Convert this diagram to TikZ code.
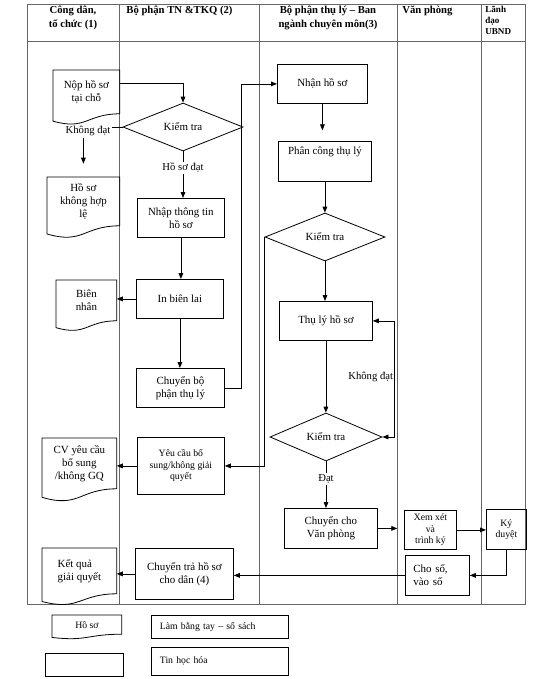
\documentclass[tikz,border=0pt]{standalone}
\usepackage{fontspec}
\setmainfont{Liberation Serif}
\usetikzlibrary{shapes.geometric,arrows.meta,calc}

\tikzset{every picture/.style={line width=0.6pt}}
\tikzset{
  >={Triangle[length=4.5pt,width=3.5pt]},
  lane/.style={draw=black!60, line width=0.7pt},
  box/.style={draw, rectangle, anchor=north west, inner sep=1pt, align=center, font=\fontsize{8.2}{9.8}\selectfont},
  doc/.style={rectangle, anchor=north west, inner sep=1pt, align=center, font=\fontsize{8.2}{9.8}\selectfont},
  check/.style={draw, diamond, aspect=2.5, inner sep=0pt, font=\fontsize{8.2}{9.8}\selectfont},
  lbl/.style={fill=white, inner sep=1pt, font=\fontsize{8}{9.6}\selectfont},
  head/.style={anchor=north, inner sep=0pt, align=center, font=\bfseries\fontsize{8}{10.5}\selectfont},
  small/.style={font=\fontsize{7.3}{8.6}\selectfont}
}
% document outline with a wavy bottom edge
\newcommand{\wavy}[1]{%
  \draw (#1.north west) -- (#1.north east) -- (#1.south east)
    .. controls (#1.south) and ($(#1.north)!1.385!(#1.south)$)
    .. ($(#1.north west)!1.1675!(#1.south west)$) -- cycle;}

\begin{document}
\begin{tikzpicture}[x=0.75pt,y=0.75pt,yscale=-1,xscale=1]
\useasboundingbox (0,0) rectangle (543,679);

%Lanes
\draw[lane] (27,4) rectangle (525,604);
\draw[lane] (27,41) -- (525,41);
\draw[lane] (119,4) -- (119,604);
\draw[lane] (259,4) -- (259,604);
\draw[lane] (397,4) -- (397,604);
\draw[lane] (481,4) -- (481,604);

% Headers
\node[head] (h1) at (73,6) {Công dân,\\ tổ chức (1)};
\node[head, anchor=north west] (h2) at (126,6) {Bộ phận TN \&TKQ (2)};
\node[head] (h3) at (328,6) {Bộ phận thụ lý – Ban\\ ngành chuyên môn(3)};
\node[head, anchor=north west] (h4) at (402,6) {Văn phòng};
\node[head, anchor=north west, align=left, font=\bfseries\fontsize{6.8}{8.2}\selectfont] (h5) at (485,6) {Lãnh\\ đạo\\ UBND};

%Shape: documents
\node[doc, minimum width=49.5pt, minimum height=32.25pt] (nop) at (53,70) {Nộp hồ sơ\\ tại chỗ};
\wavy{nop}
\node[doc, minimum width=54pt, minimum height=36pt] (khonghople) at (47,177) {Hồ sơ\\ không hợp\\ lệ};
\wavy{khonghople}
\node[doc, minimum width=45pt, minimum height=30pt] (biennhan) at (56,280) {Biên\\ nhân};
\wavy{biennhan}
\node[doc, minimum width=55.5pt, minimum height=37.5pt] (cv) at (42,438) {CV yêu cầu\\ bổ sung\\ /không GQ};
\wavy{cv}
\node[doc, minimum width=55.5pt, minimum height=33.75pt, align=left] (ketqua) at (42,548) {Kết quả\\ giải quyết};
\wavy{ketqua}

%Shape: boxes
\node[box, minimum width=65.25pt, minimum height=29.25pt] (nhap) at (137,198) {Nhập thông tin\\ hồ sơ};
\node[box, minimum width=65.25pt, minimum height=29.25pt] (inbienlai) at (136,279) {In biên lai};
\node[box, minimum width=66pt, minimum height=29.25pt] (chuyenbp) at (136,368) {Chuyển bộ\\ phận thụ lý};
\node[box, small, minimum width=65.25pt, minimum height=42.75pt] (yeucau) at (137,437) {Yêu cầu bổ\\ sung/không giải\\ quyết};
\node[box, minimum width=73.5pt, minimum height=38.25pt] (chuyentra) at (135,548) {Chuyển trả hồ sơ\\ cho dân (4)};
\node[box, minimum width=67.5pt, minimum height=29.25pt] (nhan) at (277,64) {Nhận hồ sơ};
\node[box, minimum width=69.75pt, minimum height=30pt, inner sep=3pt, text height=7pt, text depth=17pt] (phancong) at (278,141) {Phân công thụ lý};
\node[box, minimum width=69.75pt, minimum height=29.25pt] (thuly) at (279,301) {Thụ lý hồ sơ};
\node[box, minimum width=69.75pt, minimum height=30pt] (chuyenvp) at (284,508) {Chuyển cho\\ Văn phòng};
\node[box, small, minimum width=39pt, minimum height=29.25pt] (xemxet) at (404,510) {Xem xét\\ và\\ trình ký};
\node[box, small, minimum width=30pt, minimum height=30pt] (kyduyet) at (486,509) {Ký\\ duyệt};
\node[box, minimum width=48pt, minimum height=30pt, text width=36pt, align=left] (choso) at (405,555) {Cho số,\\ vào số};

%Shape: checks
\node[check, minimum width=90pt, minimum height=36pt] (kt1) at (183,127) {Kiểm tra};
\node[check, minimum width=90pt, minimum height=36pt] (kt2) at (325,237) {Kiểm tra};
\node[check, minimum width=84pt, minimum height=36pt] (kt3) at (326,437) {Kiểm tra};

%Connectors
\draw[->] ($(nop.north east)!0.3!(nop.south east)$) -| (kt1.north);
\node[lbl] (kd1) at (88,131) {Không đạt};
\draw (kt1.west) -- (kt1.west -| kd1.east);
\draw[->, shorten >=10pt] (kd1.south -| khonghople.north) -- (khonghople.north);
\draw[->] (kt1.south) -- (kt1.south |- nhap.north) node[lbl, pos=0.35] (hsd) {Hồ sơ đạt};
\draw[->] (nhap.south) -- (nhap.south |- inbienlai.north);
\draw[->] (inbienlai.west) -- (inbienlai.west -| biennhan.east);
\draw[->] (inbienlai.south) -- (inbienlai.south |- chuyenbp.north);
\draw[->] (chuyenbp.east) -- ++(17,0) |- (nhan.west);
\draw[->, shorten >=8pt] (nhan.south) -- (nhan.south |- phancong.north);
\draw[->] (phancong.south) -- (phancong.south |- kt2.north);
\draw[->] (kt2.south) -- (kt2.south |- thuly.north);
\draw[->] (kt2.west) |- (yeucau.east);
\draw[->] (yeucau.west) -- (yeucau.west -| cv.east);
\draw[->] (thuly.south) -- (thuly.south |- kt3.north);
\draw[<->] (kt3.east) -- ++(12,0) |- (thuly.east);
\node[lbl, anchor=east] (kd2) at (394.8,377) {Không đạt};
\draw[->] (kt3.south) -- (kt3.south |- chuyenvp.north) node[lbl, pos=0.38] (dat) {Đạt};
\draw[->, shorten >=5pt] (chuyenvp.east) -- (chuyenvp.east -| xemxet.west);
\draw[->] (xemxet.east) -- (xemxet.east -| kyduyet.west);
\draw[->] (kyduyet.south) |- (choso.east);
\draw[->] (choso.west) -- (choso.west -| chuyentra.east);
\draw[->] (chuyentra.west) -- (chuyentra.west -| ketqua.east);

% Legend
\node[doc, small, minimum width=51.75pt, minimum height=13.8pt] (lghoso) at (52,615) {Hồ sơ};
\wavy{lghoso}
\node[box, small, minimum width=102.75pt, minimum height=17.25pt, inner xsep=6pt, text width=90pt, align=left] (lglam) at (151,615) {Làm bằng tay – sổ sách};
\node[box, minimum width=58.5pt, minimum height=17.25pt] (lgplain) at (45,653) {};
\node[box, small, minimum width=102.75pt, minimum height=21pt, inner xsep=6pt, text width=90pt, align=left] (lgtin) at (151,647) {Tin học hóa};

\end{tikzpicture}
\end{document}
